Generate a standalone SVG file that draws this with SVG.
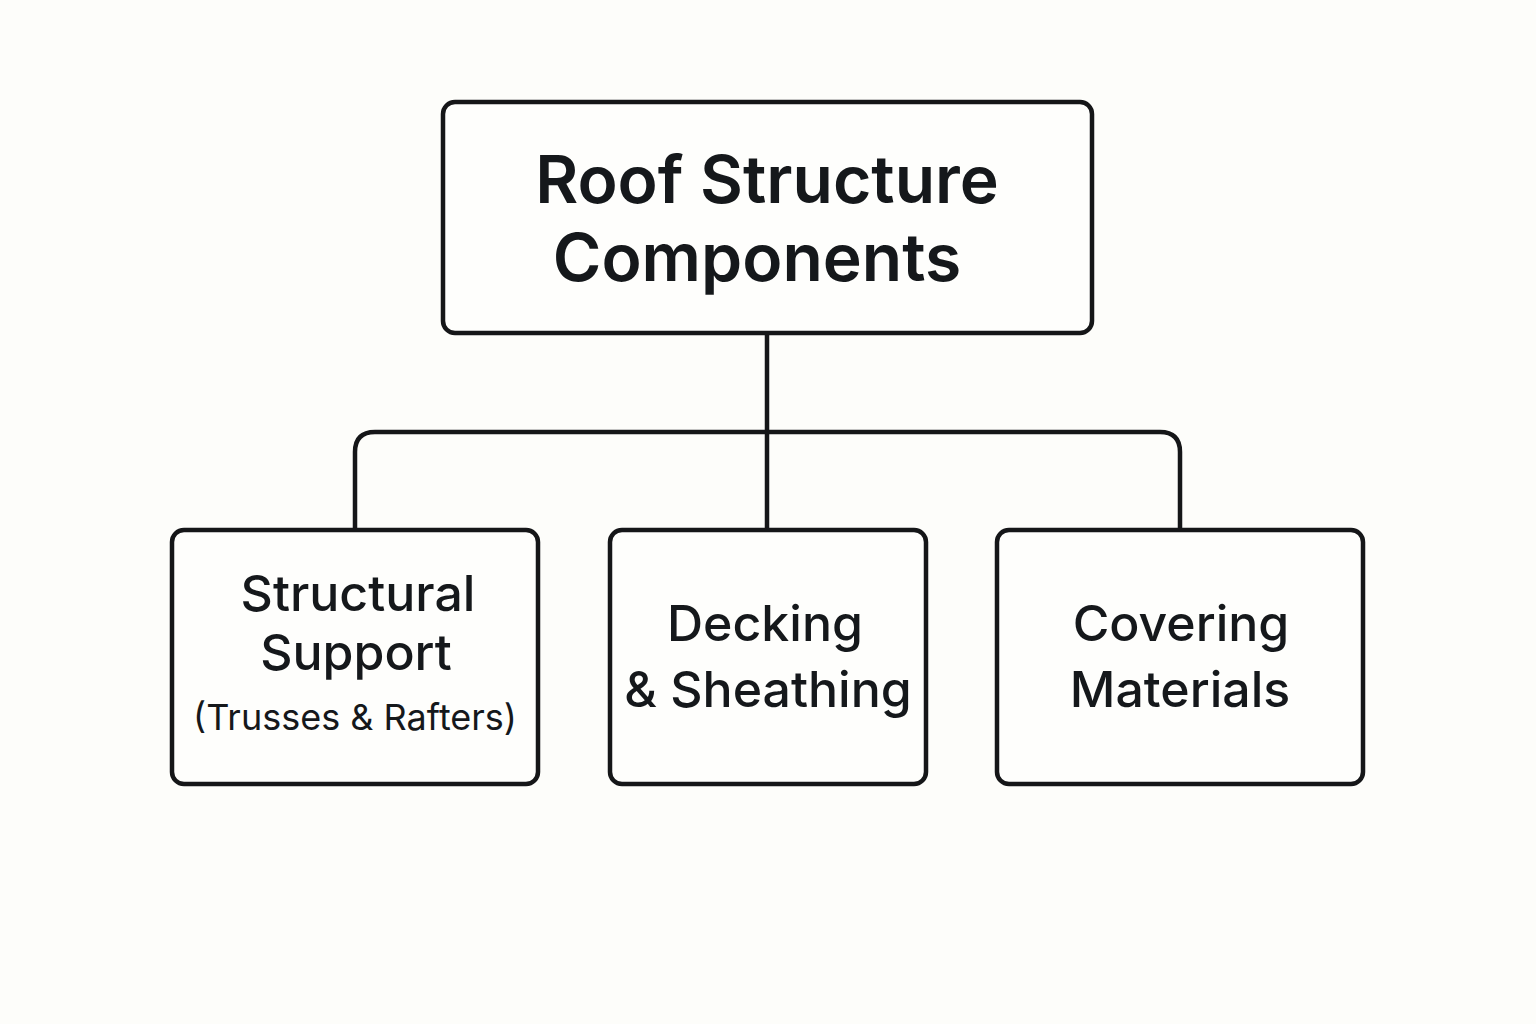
<svg xmlns="http://www.w3.org/2000/svg" width="1536" height="1024" viewBox="0 0 1536 1024">
<style>
.box{fill:#fefefc;stroke:#151618;stroke-width:4.5}
.con{fill:none;stroke:#151618;stroke-width:4.5}
.t{font-family:Inter,"Noto Sans",sans-serif;fill:#15181b;text-anchor:middle}
.title{font-size:66px;font-weight:600}
.lbl{font-size:50px;font-weight:500}
.sub{font-size:36px;font-weight:400}
</style>
<rect width="1536" height="1024" fill="#fdfdfa"/>
<g id="connectors">
<path class="con" d="M767 333 V530"/>
<path class="con" d="M355 530 V452 Q355 432 375 432 H1160 Q1180 432 1180 452 V530"/>
</g>
<g id="root">
<rect class="box" x="443" y="102" width="649" height="231" rx="12"/>
<text class="t title" x="767" y="203">Roof Structure</text>
<text class="t title" x="757" y="281">Components</text>
</g>
<g id="structural">
<rect class="box" x="172" y="530" width="366" height="254" rx="12"/>
<text class="t lbl" x="358" y="611">Structural</text>
<text class="t lbl" x="356" y="670">Support</text>
<text class="t sub" x="355" y="730">(Trusses &amp; Rafters)</text>
</g>
<g id="decking">
<rect class="box" x="610" y="530" width="316" height="254" rx="12"/>
<text class="t lbl" x="765" y="641">Decking</text>
<text class="t lbl" x="768" y="707">&amp; Sheathing</text>
</g>
<g id="covering">
<rect class="box" x="997" y="530" width="366" height="254" rx="12"/>
<text class="t lbl" x="1181" y="641">Covering</text>
<text class="t lbl" x="1180" y="707">Materials</text>
</g>
</svg>
